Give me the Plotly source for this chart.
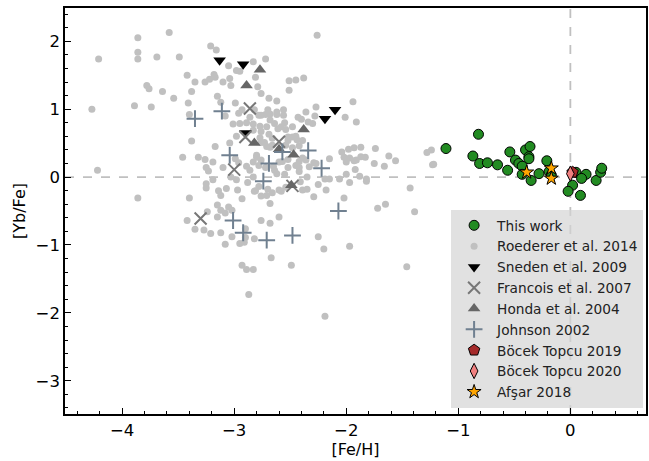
import plotly.graph_objects as go

# ---------------- data ----------------
this_work_feh = [-0.82, -1.11, -0.87, -0.81, -0.74, -0.65, -0.54, -0.56, -0.49, -0.46, -0.43,
                 -0.40, -0.36, -0.37, -0.37, -0.43, -0.35, -0.28, -0.21, -0.19, 0.05, 0.14,
                 0.10, 0.02, -0.02, 0.09, 0.23, 0.27, 0.28, -0.17]
this_work_yb = [0.63, 0.42, 0.31, 0.20, 0.21, 0.18, 0.37, 0.10, 0.25, 0.20, 0.16,
                0.40, 0.45, 0.30, 0.27, 0.04, -0.05, 0.05, 0.24, 0.08, 0.07, 0.04,
                -0.02, -0.12, -0.21, -0.27, -0.05, 0.07, 0.13, 0.03]

roederer_feh = [-4.27, -4.21, -4.22, -3.86, -3.86, -3.86, -3.58, -3.69, -3.49, -3.21, -3.16, -3.05,
                -2.98, -2.95, -2.83, -2.72, -2.26, -3.42, -3.35, -3.26, -3.22, -3.18, -3.17, -3.10,
                -3.04, -3.03, -2.81, -2.79, -2.51, -2.45, -2.38, -2.51, -3.78, -3.76, -3.64, -3.54,
                -3.38, -3.41, -3.89, -3.74, -3.15, -3.12, -2.99, -2.93, -2.76, -2.69, -2.62, -2.56,
                -2.70, -2.76, -2.82, -1.94, -2.01, -1.91, -2.28, -2.40, -2.34, -2.48, -2.54, -2.58,
                -2.68, -2.62, -2.68, -2.64, -2.83, -2.76, -2.69, -2.66, -2.48, -2.44, -2.73, -2.68,
                -2.54, -2.52, -2.42, -2.15, -2.04, -1.98, -1.93, -1.87, -1.74, -1.62, -1.56, -1.87,
                -1.83, -1.91, -1.66, -1.75, -2.02, -1.97, -2.00, -1.92, -1.88, -1.82, -2.06, -2.27,
                -2.15, -2.25, -2.41, -2.35, -1.28, -1.24, -1.23, -1.22, -1.43, -2.02, -2.83, -2.86,
                -2.83, -2.81, -2.65, -2.57, -2.45, -2.62, -2.55, -2.70, -2.66, -2.58, -2.76, -1.82,
                -1.97, -1.72, -1.65, -1.39, -1.97, -1.46, -3.40, -3.08, -2.96, -2.86, -3.01, -2.95,
                -2.89, -2.83, -2.78, -2.72, -2.62, -2.56, -2.77, -2.71, -2.61, -2.43, -2.36, -2.55,
                -3.38, -3.17, -3.04, -2.98, -2.77, -2.76, -2.71, -2.66, -2.45, -2.48, -3.46, -3.32,
                -3.26, -3.19, -3.25, -3.23, -3.10, -2.96, -2.89, -2.78, -2.72, -2.99, -2.80, -2.76,
                -2.60, -2.52, -2.42, -2.36, -2.29, -2.00, -1.93, -2.52, -2.42, -3.19, -3.25, -3.03,
                -2.98, -2.88, -3.07, -3.14, -3.12, -2.78, -2.71, -2.97, -2.93, -2.68, -3.40, -3.05,
                -3.02, -3.15, -3.12, -3.24, -2.60, -2.54, -2.39, -2.35, -2.29, -2.19, -2.18, -3.42,
                -3.15, -3.08, -3.35, -3.27, -3.21, -3.12, -3.02, -2.95, -2.91, -2.82, -2.68, -2.60,
                -2.67, -2.25, -2.20, -3.08, -2.76, -2.82, -2.93, -2.89, -2.83, -2.49, -2.87, -2.19,
                -3.86, -3.25, -2.90, -2.90, -2.30, -2.27, -2.39, -2.52, -2.80, -2.64, -2.39, -2.33,
                -2.42]
roederer_yb = [1.00, 1.74, 0.10, 2.05, 1.84, 1.74, 2.13, 1.77, 1.77, 1.93, 1.87, 1.64,
               1.57, 1.56, 1.70, 1.74, 2.09, 1.50, 1.40, 1.40, 1.44, 1.51, 1.47, 1.40,
               1.45, 1.35, 1.47, 1.33, 1.42, 1.43, 1.46, 1.28, 1.35, 1.30, 1.26, 1.16,
               1.26, 1.09, 1.05, 1.03, 1.19, 1.10, 1.09, 0.99, 1.23, 1.16, 1.12, 0.99,
               0.99, 0.91, 0.99, 1.11, 0.88, 0.81, 0.90, 0.85, 0.81, 0.74, 0.70, 0.74,
               0.93, 0.92, 0.84, 0.79, 0.69, 0.67, 0.63, 0.57, 0.59, 0.55, 0.51, 0.44,
               0.47, 0.54, 0.46, 0.27, 0.37, 0.41, 0.43, 0.44, 0.42, 0.31, 0.24, 0.30,
               0.29, 0.25, 0.16, 0.20, 0.29, 0.28, 0.04, 0.11, 0.01, -0.03, -0.03, 0.20,
               -0.03, -0.11, -0.07, 0.00, 0.36, 0.40, 0.18, 0.19, -0.16, -0.31, 0.22, 0.10,
               0.00, -0.20, 0.16, 0.23, 0.17, 0.05, 0.04, -0.18, -0.23, -0.21, -0.28, -0.06,
               -0.08, -0.46, -0.40, -0.51, -1.02, -1.32, 0.92, 0.90, 0.94, 0.88, 0.78, 0.79,
               0.80, 0.78, 0.91, 0.92, 0.96, 0.91, 0.75, 0.74, 0.71, 0.88, 0.96, 0.80,
               0.53, 0.45, 0.50, 0.60, 0.58, 0.51, 0.45, 0.47, 0.60, 0.43, 0.29, 0.29,
               0.26, 0.22, 0.14, 0.09, 0.14, 0.21, 0.16, 0.17, 0.14, 0.27, 0.29, 0.25,
               0.22, 0.26, 0.23, 0.25, 0.21, 0.22, 0.24, 0.14, 0.14, -0.04, -0.10, 0.00,
               -0.04, -0.08, -0.17, -0.20, -0.27, -0.14, -0.27, -0.19, -0.32, -0.39, -0.31, -0.44,
               -0.49, -0.41, -0.49, -0.51, -0.19, -0.15, -0.19, -0.18, -0.29, -0.03, -0.19, -0.64,
               -0.59, -0.53, -0.77, -0.78, -0.83, -0.82, -0.88, -0.98, -0.96, -0.91, -0.68, -0.59,
               -1.19, -0.88, -1.06, -0.99, -0.64, -0.21, -1.30, -1.36, -1.36, -1.30, -1.73, -2.05,
               -0.31, -0.16, -0.76, -0.89, 0.79, 1.03, 0.54, 0.59, 0.32, 0.10, 0.28, 0.15,
               0.08]

sneden_feh = [-3.13, -2.92, -2.90, -2.19, -2.10]
sneden_yb = [1.72, 1.66, 0.65, 0.86, 0.99]

francois_feh = [-2.86, -2.90, -2.60, -3.00, -2.48, -3.30]
francois_yb = [1.01, 0.59, 0.52, 0.11, -0.13, -0.61]

honda_feh = [-2.77, -2.89, -2.82, -2.38, -2.60, -2.47, -2.49]
honda_yb = [1.58, 1.35, 0.50, 0.70, 0.41, 0.33, -0.12]

johnson_feh = [-3.35, -3.11, -3.04, -2.69, -2.57, -2.34, -2.22, -2.74, -2.07, -3.01, -2.92, -2.71, -2.48]
johnson_yb = [0.86, 0.97, 0.32, 0.20, 0.37, 0.39, 0.13, -0.06, -0.50, -0.64, -0.82, -0.93, -0.86]

bocek2019_feh = [0.02]
bocek2019_yb = [0.07]

bocek2020_feh = [0.00]
bocek2020_yb = [0.05]

afsar_feh = [-0.39, -0.17, -0.17]
afsar_yb = [0.07, 0.13, -0.02]

x_range = [-4.51, 0.675]
y_range = [-3.49, 2.49]

# ---------------- figure ----------------
fig = go.Figure()

fig.add_trace(go.Scatter(x=roederer_feh, y=roederer_yb, mode="markers", name="Roederer et al. 2014",
                         legendrank=2, marker=dict(color="#c0c0c0", size=7, line=dict(width=0))))
fig.add_trace(go.Scatter(x=sneden_feh, y=sneden_yb, mode="markers", name="Sneden et al. 2009",
                         legendrank=3, marker=dict(color="black", symbol="triangle-down", size=11)))
fig.add_trace(go.Scatter(x=francois_feh, y=francois_yb, mode="markers", name="Francois et al. 2007",
                         legendrank=4, marker=dict(color="#777777", symbol="x-thin", size=12,
                                                   line=dict(width=2, color="#777777"))))
fig.add_trace(go.Scatter(x=honda_feh, y=honda_yb, mode="markers", name="Honda et al. 2004",
                         legendrank=5, marker=dict(color="#666666", symbol="triangle-up", size=11)))
fig.add_trace(go.Scatter(x=johnson_feh, y=johnson_yb, mode="markers", name="Johnson 2002",
                         legendrank=6, marker=dict(color="#708090", symbol="cross-thin", size=12,
                                                   line=dict(width=2, color="#708090"))))
fig.add_trace(go.Scatter(x=this_work_feh, y=this_work_yb, mode="markers", name="This work",
                         legendrank=1, marker=dict(color="#228b22", size=10,
                                                   line=dict(width=1, color="black"))))
fig.add_trace(go.Scatter(x=bocek2019_feh, y=bocek2019_yb, mode="markers", name="Böcek Topcu 2019",
                         legendrank=7, marker=dict(color="#a52a2a", symbol="pentagon", size=12,
                                                   line=dict(width=1, color="black"))))
fig.add_trace(go.Scatter(x=bocek2020_feh, y=bocek2020_yb, mode="markers", name="Böcek Topcu 2020",
                         legendrank=8, marker=dict(color="#f08080", symbol="diamond-tall", size=11,
                                                   line=dict(width=1, color="black"))))
fig.add_trace(go.Scatter(x=afsar_feh, y=afsar_yb, mode="markers", name="Afşar 2018",
                         legendrank=9, marker=dict(color="#ffa500", symbol="star", size=10.5,
                                                   line=dict(width=1, color="black"))))

fig.add_hline(y=0, line=dict(color="#c0c0c0", width=1.8, dash="dash"), layer="below")
fig.add_vline(x=0, line=dict(color="#c0c0c0", width=1.8, dash="dash"), layer="below")

axis_common = dict(
    showgrid=False, zeroline=False, showline=True, linecolor="black", linewidth=1.5,
    mirror=True, ticks="inside", ticklen=6, tickwidth=1.2, tickcolor="black",
    tickfont=dict(size=16.5, color="black", family="DejaVu Sans"),
    minor=dict(ticks="inside", ticklen=3, tickwidth=1, tickcolor="black", dtick=0.2),
    dtick=1,
)

fig.update_xaxes(range=x_range, title=dict(text="[Fe/H]", font=dict(size=16, family="DejaVu Sans", color="black"), standoff=4),
                 tick0=0, **axis_common)
fig.update_yaxes(range=y_range, title=dict(text="[Yb/Fe]", font=dict(size=16, family="DejaVu Sans", color="black"), standoff=6),
                 tick0=0, **axis_common)

fig.update_layout(
    width=649, height=461,
    margin=dict(l=65, r=1, t=8, b=47),
    paper_bgcolor="white", plot_bgcolor="white",
    font=dict(family="DejaVu Sans", color="black"),
    legend=dict(x=0.995, y=0.015, xanchor="right", yanchor="bottom",
                bgcolor="rgba(212,212,212,0.7)", borderwidth=0, itemwidth=36,
                font=dict(size=13.7, family="DejaVu Sans", color="#222222")),
    showlegend=True,
)

fig.write_html("out.html")
